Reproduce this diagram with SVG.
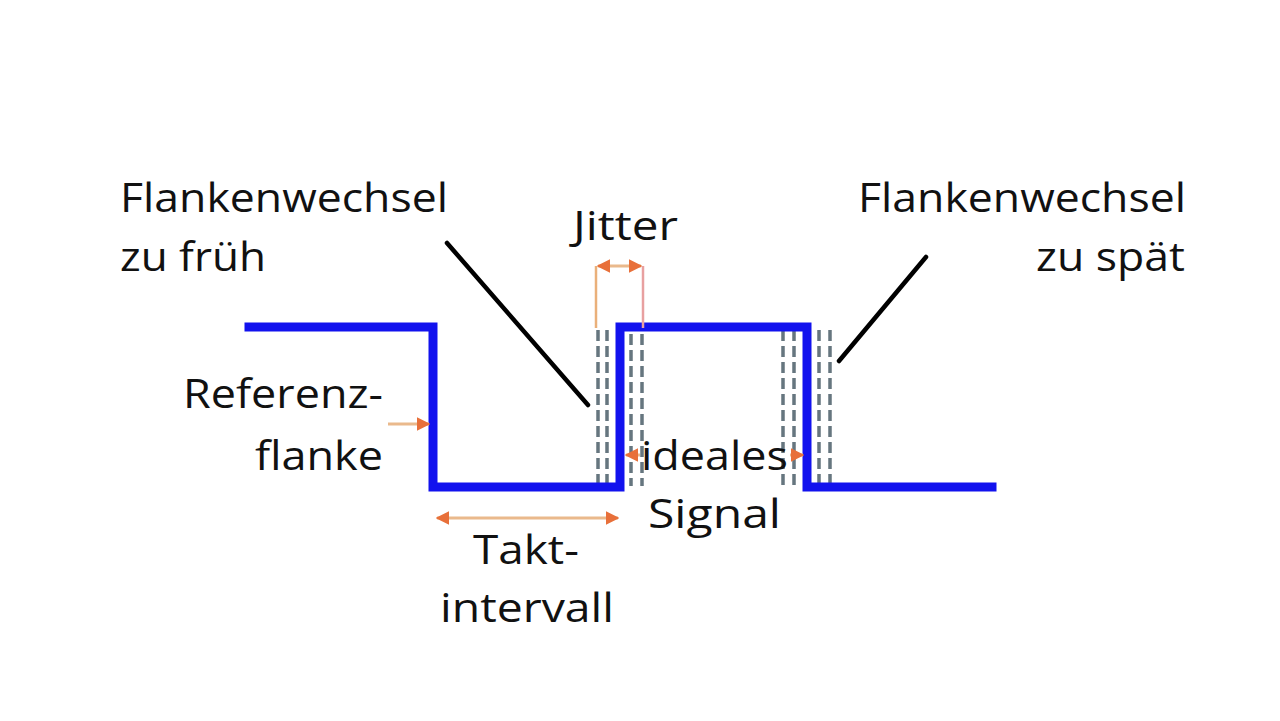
<svg xmlns="http://www.w3.org/2000/svg" width="1280" height="721" viewBox="0 0 1280 721">
<style>
.t{font-family:"Open Sans","Noto Sans","Liberation Sans",sans-serif;font-size:41px;font-weight:500;fill:#111}
.sig{fill:none;stroke:#1212ee;stroke-width:9;stroke-linejoin:miter;stroke-linecap:square}
.dash{stroke:#66767f;stroke-width:3.5;stroke-dasharray:11 5;fill:none}
.lead{stroke:#000;stroke-width:4.5;stroke-linecap:round;fill:none}
.ar{stroke:#eab98c;stroke-width:3;fill:none}
</style>
<defs>
<marker id="ah" viewBox="0 0 10 10" refX="9" refY="5" markerWidth="4.5" markerHeight="4.5" orient="auto-start-reverse" markerUnits="strokeWidth">
<path d="M0,0 L10,5 L0,10 z" fill="#e8703a"/>
</marker>
</defs>
<rect width="1280" height="721" fill="#fff"/>
<g id="jitter-lines">
<path class="dash" d="M598,330 V486 M607,330 V486 M631,334 V486 M642,334 V486"/>
<path class="dash" d="M783,330 V486 M794,330 V486 M819,330 V486 M830,330 V486"/>
</g>
<g id="signal">
<path class="sig" d="M249,327 H433 V487 H620 V327 H807 V487 H992"/>
</g>
<g id="connectors">
<path class="lead" d="M447,243 L588,405"/>
<path class="lead" d="M926,257 L839,361"/>
<path d="M596,328 V266" stroke="#eab07a" stroke-width="2.5" fill="none"/>
<path d="M643,328 V266" stroke="#e8a0a0" stroke-width="2.5" fill="none"/>
<path class="ar" d="M598,266 H641" marker-start="url(#ah)" marker-end="url(#ah)"/>
<path class="ar" d="M388,424 H429" stroke="#eed09a" marker-end="url(#ah)"/>
<path class="ar" d="M437,518 H618" marker-start="url(#ah)" marker-end="url(#ah)"/>
<path class="ar" d="M640,455 H626" marker-end="url(#ah)"/>
<path class="ar" d="M790,455 H803" marker-end="url(#ah)"/>
</g>
<g id="label-frueh">
<text class="t" x="120" y="212" textLength="328" lengthAdjust="spacingAndGlyphs">Flankenwechsel</text>
<text class="t" x="120" y="271" textLength="146" lengthAdjust="spacingAndGlyphs">zu früh</text>
</g>
<g id="label-jitter">
<text class="t" x="573" y="240" textLength="105" lengthAdjust="spacingAndGlyphs">Jitter</text>
</g>
<g id="label-spaet">
<text class="t" x="858" y="212" textLength="328" lengthAdjust="spacingAndGlyphs">Flankenwechsel</text>
<text class="t" x="1036" y="271" textLength="149" lengthAdjust="spacingAndGlyphs">zu spät</text>
</g>
<g id="label-referenz">
<text class="t" x="183" y="408" textLength="200" lengthAdjust="spacingAndGlyphs">Referenz-</text>
<text class="t" x="255" y="470" textLength="128" lengthAdjust="spacingAndGlyphs">flanke</text>
</g>
<g id="label-ideal">
<text class="t" x="641" y="470" textLength="147" lengthAdjust="spacingAndGlyphs">ideales</text>
<text class="t" x="648" y="528" textLength="133" lengthAdjust="spacingAndGlyphs">Signal</text>
</g>
<g id="label-takt">
<text class="t" x="473" y="564" textLength="106" lengthAdjust="spacingAndGlyphs">Takt-</text>
<text class="t" x="440" y="622" textLength="174" lengthAdjust="spacingAndGlyphs">intervall</text>
</g>
</svg>
